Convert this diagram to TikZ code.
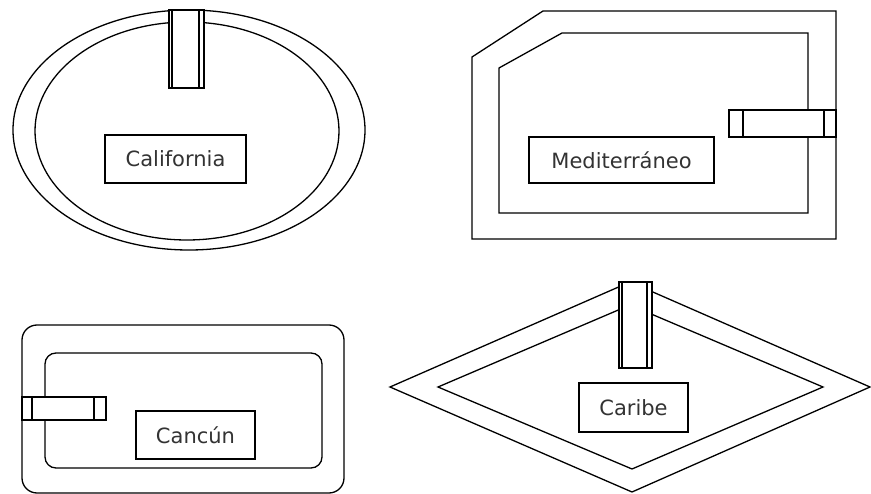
\documentclass[tikz,border=0pt]{standalone}
\usepackage{fontspec}
\setmainfont{DejaVu Sans}
\usetikzlibrary{positioning}

\begin{document}
\begin{tikzpicture}[x=1pt,y=-1pt,line width=1.3pt,
    labelbox/.style={draw,fill=white,inner sep=0pt,text=black!80,font=\fontsize{21}{24}\selectfont},
    pipe/.style={draw,fill=white}]
\useasboundingbox (0,0) rectangle (871,494);
% pools, outer edge then inner edge
\draw (189,130) ellipse [x radius=176pt, y radius=120pt];
\draw (187,131) ellipse [x radius=152pt, y radius=109pt];
\draw (543,11) -- (836,11) -- (836,239) -- (472,239) -- (472,57) -- cycle;
\draw (562,33) -- (808,33) -- (808,213) -- (499,213) -- (499,68) -- cycle;
\draw[rounded corners=15pt] (22,325) rectangle (344,493);
\draw[rounded corners=11pt] (45,353) rectangle (322,468);
\draw (390,387) -- (630,282) -- (870,387) -- (632,492) -- cycle;
\draw (438,387) -- (630,305) -- (823,387) -- (632,469) -- cycle;
% the pipes, over the edges
\filldraw[pipe] (169,10) rectangle (204,88);
\draw (172,10) -- (172,88);
\draw (199,10) -- (199,88);
\filldraw[pipe] (729,110) rectangle (836,137);
\draw (743,110) -- (743,137);
\draw (824,110) -- (824,137);
\filldraw[pipe] (22,397) rectangle (106,420);
\draw (32,397) -- (32,420);
\draw (94,397) -- (94,420);
\filldraw[pipe] (619,282) rectangle (652,368);
\draw (622,282) -- (622,368);
\draw (647,282) -- (647,368);
% names
\node[labelbox,minimum width=141pt,minimum height=48pt] (california) at (175.5,159) {California};
\node[labelbox,minimum width=185pt,minimum height=46pt] (mediterraneo) at (621.5,160) {Mediterráneo};
\node[labelbox,minimum width=119pt,minimum height=48pt] (cancun) at (195.5,435) {Cancún};
\node[labelbox,minimum width=109pt,minimum height=49pt] (caribe) at (633.5,407.5) {Caribe};
\end{tikzpicture}
\end{document}
